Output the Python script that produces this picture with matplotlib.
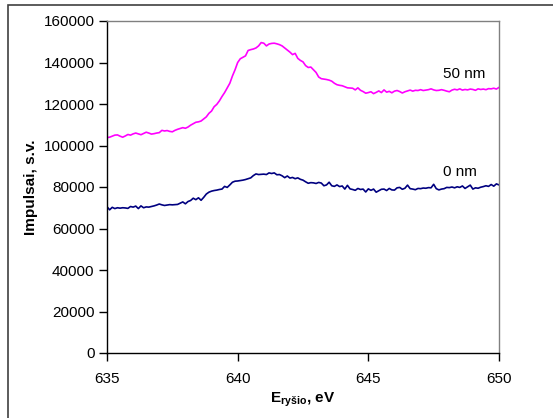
import numpy as np
import matplotlib
matplotlib.use("Agg")
import matplotlib.pyplot as plt
from matplotlib.patches import Rectangle

plt.rcParams['font.family'] = ['Liberation Sans', 'DejaVu Sans']
plt.rcParams['mathtext.fontset'] = 'custom'
plt.rcParams['mathtext.rm'] = 'Liberation Sans:bold'
plt.rcParams['mathtext.bf'] = 'Liberation Sans:bold'

energy = np.round(np.arange(635.0, 650.0001, 0.1), 1)

nm50 = [
    103.8, 104.0, 104.5, 105.0, 105.1, 104.5, 104.0, 104.6, 105.3, 105.0, 105.6,
    106.0, 105.6, 105.2, 105.8, 106.4, 106.0, 105.5, 105.7, 106.0, 106.2,
    107.3, 107.0, 107.2, 106.8, 106.6, 107.3, 107.8, 108.2, 108.6, 108.3,
    108.9, 109.8, 110.5, 111.2, 111.4, 111.8, 112.8, 113.8, 115.5, 116.6,
    118.7, 119.8, 121.5, 123.6, 125.5, 127.8, 130.0, 133.5, 136.5, 140.0,
    141.8, 142.5, 143.2, 145.8, 146.2, 146.5, 147.0, 148.0, 149.6, 149.3,
    148.0, 148.9, 149.2, 149.3, 149.0, 148.6, 148.0, 147.0, 146.0, 145.0,
    143.8, 144.4, 142.0, 141.0, 140.3, 138.5, 137.6, 137.8, 136.5, 135.2,
    133.0, 132.2, 132.0, 131.8, 131.5, 131.0, 130.0, 129.3, 129.0, 128.8,
    128.3, 127.8, 127.7, 127.6, 126.8, 127.8, 126.6, 126.0, 125.2, 125.5,
    125.9, 125.0, 125.6, 126.3, 125.5, 126.8, 125.7, 126.1, 125.4, 126.2,
    126.5, 126.0, 125.3, 125.9, 126.3, 126.7, 126.2, 126.6, 126.5, 126.9,
    126.5, 126.7, 126.9, 127.3, 126.8, 126.5, 126.6, 126.9, 126.6, 126.2,
    125.9, 126.7, 127.1, 126.8, 127.3, 126.7, 127.0, 126.8, 127.2, 127.0,
    126.6, 127.3, 127.0, 127.2, 126.9, 127.4, 127.3, 127.6, 127.2, 128.0,
]

nm0 = [
    70.5, 69.0, 70.2, 69.6, 70.0, 69.8, 70.0, 69.9, 69.7, 70.6, 70.3,
    70.8, 69.6, 70.9, 70.0, 70.4, 70.3, 70.6, 70.9, 71.3, 71.8,
    71.4, 71.1, 71.3, 71.5, 71.4, 71.5, 71.6, 72.2, 72.8, 71.9,
    73.0, 73.5, 74.6, 73.9, 74.8, 73.6, 75.0, 76.6, 77.5, 78.0,
    78.3, 78.5, 78.8, 79.0, 80.3, 79.8, 81.0, 82.3, 82.8, 82.9,
    83.1, 83.3, 83.6, 84.0, 84.4, 85.5, 86.3, 86.0, 86.1, 86.2,
    86.0, 86.8, 86.5, 86.8, 85.9, 86.0, 85.4, 84.5, 85.3, 84.3,
    84.6, 84.0, 84.4, 83.7, 83.3, 82.5, 81.8, 82.1, 82.0, 81.7,
    82.2, 81.9, 80.6, 81.0, 82.3, 80.6, 80.3, 81.0, 80.2, 80.5,
    79.0, 80.8, 79.1, 78.8, 78.4, 79.3, 78.8, 79.0, 77.6, 79.1,
    78.4, 79.0, 77.5, 78.2, 78.9, 79.0, 78.3, 79.3, 78.6, 78.5,
    79.6, 79.8, 78.9, 79.4, 80.9, 79.2, 79.0, 78.7, 79.3, 79.2,
    79.5, 79.4, 79.7, 79.6, 81.3, 79.2, 78.6, 79.0, 79.2, 79.8,
    79.7, 80.0, 79.6, 80.1, 79.8, 80.5, 79.3, 80.1, 80.9, 79.0,
    79.6, 79.4, 79.9, 80.2, 80.6, 80.3, 81.2, 80.4, 81.5, 81.0,
]

series_labels = ["50 nm", "0 nm"]
x_ticks = [635, 640, 645, 650]
y_ticks = [0, 20000, 40000, 60000, 80000, 100000, 120000, 140000, 160000]

fig = plt.figure(figsize=(5.53, 4.18), dpi=100)
ax = fig.add_axes([107/553, 1-353/418, (499-107)/553, (353-21)/418])

ax.plot(energy, np.array(nm50) * 1000, color='#FF00FF', lw=1.2)
ax.plot(energy, np.array(nm0) * 1000, color='#000080', lw=1.2)

ax.text(647.86, 134500, series_labels[0], fontsize=11, ha='left', va='center')
ax.text(647.86, 87200, series_labels[1], fontsize=11, ha='left', va='center')

ax.set_xlim(635, 650)
ax.set_ylim(0, 160000)
ax.set_xticks(x_ticks)
ax.set_yticks(y_ticks)
ax.set_xticklabels([str(t) for t in x_ticks])
ax.set_yticklabels([str(t) for t in y_ticks])
ax.tick_params(axis='both', direction='out', length=6, width=1, labelsize=11, pad=3)
ax.tick_params(axis='x', pad=8)

for s in ['top', 'right']:
    ax.spines[s].set_color('#808080')
    ax.spines[s].set_linewidth(1)
for s in ['left', 'bottom']:
    ax.spines[s].set_color('black')
    ax.spines[s].set_linewidth(1)

ax.set_xlabel(r"E$_{\mathrm{ryšio}}$, eV", fontsize=11, fontweight='bold', labelpad=3)
ax.set_ylabel("Impulsai, s.v.", fontsize=11, fontweight='bold', labelpad=4)

fig.patches.append(Rectangle((8/553, -0.1), 1.2, 1.1 - 5/418, transform=fig.transFigure,
                             fill=False, edgecolor='#404040', lw=1.2, zorder=-1))

fig.savefig("out.png", dpi=100)
